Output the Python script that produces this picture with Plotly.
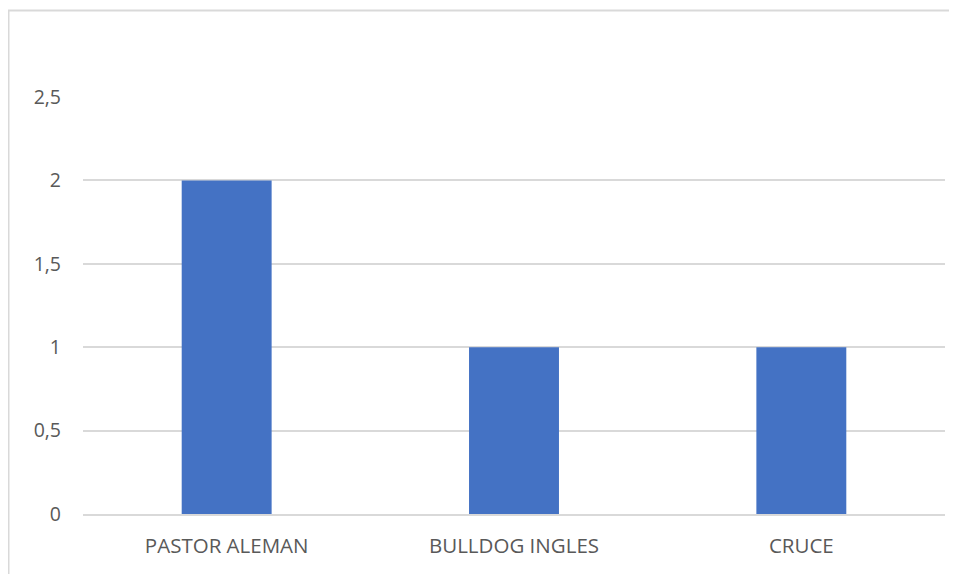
import plotly.graph_objects as go

categories = ["PASTOR ALEMAN", "BULLDOG INGLES", "CRUCE"]
values = [2, 1, 1]
y_ticks = [0, 0.5, 1, 1.5, 2, 2.5]

fig = go.Figure(go.Bar(x=categories, y=values, marker=dict(color="#4472C4", line=dict(width=0))))

# page has an ~8px body margin; figure size/coordinates compensate (no scrollbars)
L, R, T, B = 75, 4, 89, 60
W, H = 941, 566
pw, ph = W - L - R, H - T - B

def px2x(px):
    return (px - L) / pw

def py2y(py):
    return (H - B - py) / ph

x0, x1 = px2x(0.5), px2x(945)
y0, y1 = py2y(570), py2y(2.5)
border_path = f"M {x0},{y0} L {x0},{y1} L {x1},{y1}"

fig.update_layout(
    width=W, height=H,
    margin=dict(l=L, r=R, t=T, b=B, autoexpand=False),
    paper_bgcolor="white", plot_bgcolor="white",
    bargap=0.687,
    separators=",.",
    showlegend=False,
    font=dict(family="Open Sans", color="#595959", size=16),
    shapes=[dict(type="path", xref="paper", yref="paper", path=border_path,
                 line=dict(color="#d9d9d9", width=2), fillcolor="rgba(0,0,0,0)", layer="below")],
)
fig.update_yaxes(range=[0, 2.5], tickvals=y_ticks, showgrid=True, gridcolor="#d9d9d9", gridwidth=2,
                 zeroline=False, showline=False, ticklabelstandoff=21,
                 tickfont=dict(size=19.5, color="#595959"))
fig.update_xaxes(showline=True, linecolor="#d9d9d9", linewidth=2, showgrid=False,
                 ticklabelstandoff=12, tickfont=dict(size=20.5, color="#595959"))

fig.write_html("out.html")
